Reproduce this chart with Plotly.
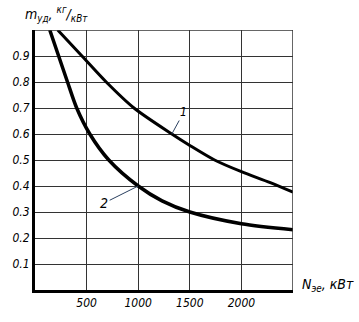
import plotly.graph_objects as go

# Data
n_curve1 = [220, 455, 690, 959, 1326, 1500, 1740, 2000, 2280, 2500]
m_curve1 = [1.0, 0.9, 0.8, 0.7, 0.6, 0.556, 0.5, 0.455, 0.413, 0.376]
n_curve2 = [143, 229, 315, 404, 531, 715, 1000, 1231, 1500, 2000, 2500]
m_curve2 = [1.0, 0.9, 0.8, 0.7, 0.6, 0.5, 0.4, 0.343, 0.3, 0.255, 0.232]
x_ticks = [500, 1000, 1500, 2000]
y_ticks = [0.1, 0.2, 0.3, 0.4, 0.5, 0.6, 0.7, 0.8, 0.9]

FONT = "DejaVu Sans Condensed"
ital = dict(family=FONT, color="black", style="italic")

fig = go.Figure()
fig.add_trace(go.Scatter(x=n_curve1, y=m_curve1, mode="lines",
                         line=dict(color="black", width=3, shape="spline", smoothing=0.8),
                         showlegend=False))
fig.add_trace(go.Scatter(x=n_curve2, y=m_curve2, mode="lines",
                         line=dict(color="black", width=3.5, shape="spline", smoothing=0.8),
                         showlegend=False))

fig.update_layout(
    width=359, height=322,
    margin=dict(l=31, r=66, t=30, b=30),
    paper_bgcolor="white", plot_bgcolor="white",
    font=dict(family=FONT, color="black", size=12),
    xaxis=dict(range=[0, 2500], tickvals=x_ticks,
               showgrid=True, gridcolor="#333", gridwidth=1,
               showline=True, linecolor="black", linewidth=3,
               ticks="", zeroline=False, tickfont=dict(size=12, **ital)),
    yaxis=dict(range=[0, 1.0], tickvals=y_ticks, tickformat=".1f",
               showgrid=True, gridcolor="#333", gridwidth=1,
               showline=True, linecolor="black", linewidth=3,
               ticks="", zeroline=False, tickfont=dict(size=12, **ital)),
    shapes=[dict(type="line", xref="x", yref="paper", x0=2500, x1=2500, y0=0, y1=1,
                 line=dict(color="#333", width=1.5)),
            dict(type="line", xref="paper", yref="y", x0=0, x1=1, y0=1.0, y1=1.0,
                 line=dict(color="#333", width=1.5))],
    annotations=[
        dict(x=1326, y=0.6, xref="x", yref="y", text="1", showarrow=True,
             arrowhead=0, arrowwidth=1, ax=12, ay=-22, font=dict(size=12, **ital)),
        dict(x=1000, y=0.4, xref="x", yref="y", text="2", showarrow=True,
             arrowhead=0, arrowwidth=1, ax=-34, ay=17, font=dict(size=14, **ital)),
        dict(x=-0.045, y=1.06, xref="paper", yref="paper", xanchor="left", yanchor="middle",
             text="m<sub>уд</sub>, <sup>кг</sup>/<sub>кВт</sub>", showarrow=False,
             font=dict(size=14, **ital)),
        dict(x=1.027, y=0.02, xref="paper", yref="paper", xanchor="left", yanchor="middle",
             text="N<sub>эе</sub>, кВт", showarrow=False, font=dict(size=14, **ital)),
    ],
)

fig.write_html("out.html")
